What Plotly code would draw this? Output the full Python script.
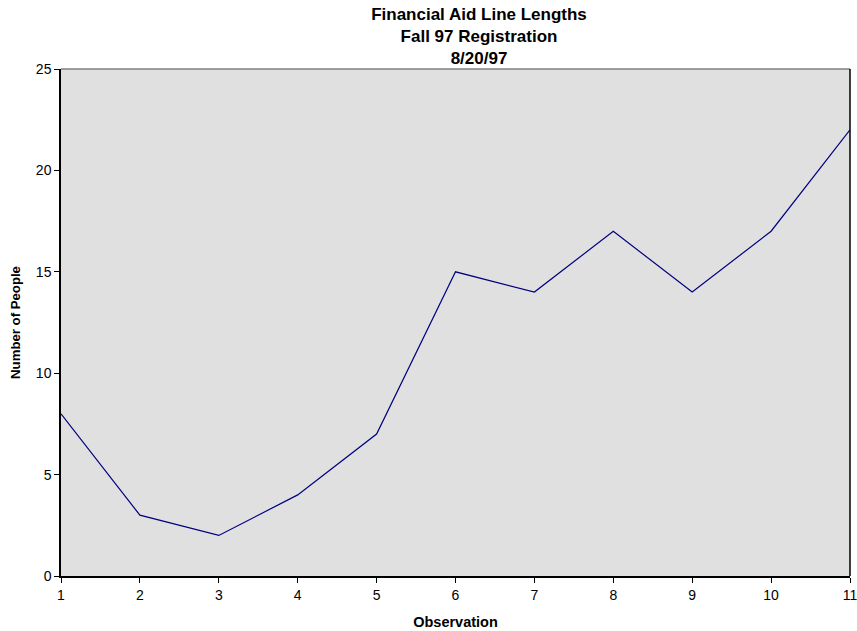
import plotly.graph_objects as go

observations = [1, 2, 3, 4, 5, 6, 7, 8, 9, 10, 11]
people = [8, 3, 2, 4, 7, 15, 14, 17, 14, 17, 22]

fig = go.Figure()
fig.add_trace(go.Scatter(x=observations, y=people, mode="lines",
                         line=dict(color="#000080", width=1.2), showlegend=False))

fig.update_layout(
    width=857, height=631,
    margin=dict(l=61, r=7, t=69, b=55),
    paper_bgcolor="white", plot_bgcolor="#e0e0e0",
    font=dict(family="Liberation Sans, Arial, sans-serif", color="black", size=14),
    title=dict(text="<b>Financial Aid Line Lengths<br>Fall 97 Registration<br>8/20/97</b>",
               x=479/857, xanchor="center", xref="container",
               y=1 - 20/631, yanchor="middle", yref="container",
               font=dict(size=17), automargin=False),
    xaxis=dict(range=[1, 11], tickvals=observations, showgrid=False, zeroline=False,
               showline=True, linecolor="black", linewidth=1.5, automargin=False,
               ticks="outside", ticklen=5, tickcolor="black",
               tickfont=dict(size=14), ticklabeloverflow="allow",
               title=dict(text="<b>Observation</b>", font=dict(size=14.5), standoff=15)),
    yaxis=dict(range=[0, 25], tickvals=[0, 5, 10, 15, 20, 25], showgrid=False, zeroline=False,
               showline=True, linecolor="black", linewidth=1.5, automargin=False,
               ticks="outside", ticklen=5, tickcolor="black",
               tickfont=dict(size=14),
               title=dict(text="<b>Number of People</b>", font=dict(size=13.2), standoff=12)),
)
fig.add_shape(type="line", xref="paper", yref="paper", x0=0, x1=1, y0=1, y1=1,
              line=dict(color="#808080", width=1.5))
fig.add_shape(type="line", xref="paper", yref="paper", x0=1, x1=1, y0=0, y1=1,
              line=dict(color="black", width=1.5))

fig.write_html("out.html", config={"displayModeBar": False},
               post_script="document.body.style.margin='0';")
